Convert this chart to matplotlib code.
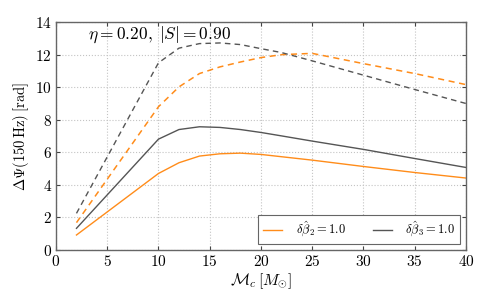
import matplotlib
matplotlib.use("Agg")
import matplotlib.pyplot as plt

plt.rcParams['mathtext.fontset'] = 'cm'
plt.rcParams['font.family'] = 'serif'
plt.rcParams['font.serif'] = ['cmr10', 'DejaVu Serif']
plt.rcParams['axes.formatter.use_mathtext'] = True

mc = [2, 10, 12, 14, 16, 18, 20, 22, 25, 30, 35, 40]
b2_solid = [0.92, 4.70, 5.36, 5.77, 5.91, 5.95, 5.87, 5.73, 5.52, 5.13, 4.76, 4.42]
b3_solid = [1.33, 6.81, 7.40, 7.57, 7.53, 7.40, 7.22, 7.01, 6.69, 6.18, 5.62, 5.07]
b2_dash = [1.68, 8.80, 10.02, 10.84, 11.25, 11.55, 11.82, 12.00, 12.08, 11.45, 10.84, 10.16]
b3_dash = [2.25, 11.50, 12.40, 12.68, 12.72, 12.62, 12.37, 12.13, 11.62, 10.74, 9.86, 9.00]

xticks = [0, 5, 10, 15, 20, 25, 30, 35, 40]
yticks = [0, 2, 4, 6, 8, 10, 12, 14]

orange = '#ff8c1a'
grey = '#555555'

fig = plt.figure(figsize=(4.91, 3.03), dpi=100)
ax = fig.add_axes([0.114, 0.175, 0.835, 0.752])

ax.plot(mc, b2_solid, color=orange, lw=1.0, label=r'$\delta\hat{\beta}_2=1.0$')
ax.plot(mc, b3_solid, color=grey, lw=1.0, label=r'$\delta\hat{\beta}_3=1.0$')
ax.plot(mc, b2_dash, color=orange, lw=1.1, ls=(0, (4, 3)))
ax.plot(mc, b3_dash, color=grey, lw=1.0, ls=(0, (4, 3)))

ax.set_xlim(0, 40)
ax.set_ylim(0, 14)
ax.set_xticks(xticks)
ax.set_yticks(yticks)
ax.tick_params(direction='in', labelsize=11, right=True, top=True, length=3,
               color='#444444', pad=3)
ax.grid(True, ls=':', color='#c4c4c4', lw=0.8)
for s in ax.spines.values():
    s.set_color('#666666')
    s.set_linewidth(1.0)

ax.set_xlabel(r'$\mathcal{M}_c\,[M_{\odot}]$', fontsize=11.5, labelpad=2)
ax.set_ylabel(r'$\Delta\Psi(150\,\mathrm{Hz})\;[\mathrm{rad}]$', fontsize=10.5, labelpad=3)
ax.text(0.078, 0.943, r'$\eta=0.20,\;|S|=0.90$', transform=ax.transAxes,
        fontsize=12.5, va='center', ha='left')

leg = ax.legend(loc='lower right', ncol=2, fontsize=9, fancybox=False,
                frameon=True, edgecolor='#666666', framealpha=1.0,
                borderaxespad=0.45, handlelength=1.5, columnspacing=2.2,
                handletextpad=1.1, borderpad=0.4)
leg.get_frame().set_linewidth(0.8)

fig.savefig('out.png', dpi=100)
